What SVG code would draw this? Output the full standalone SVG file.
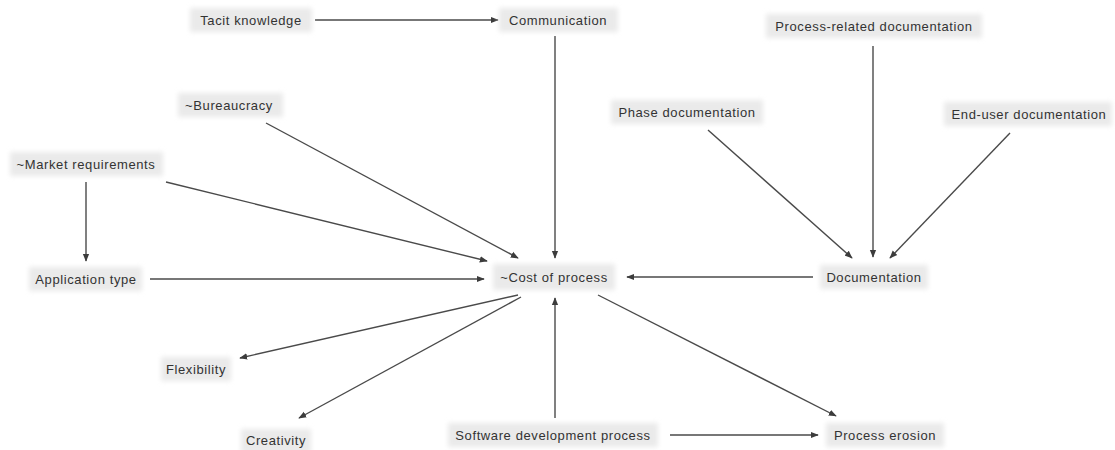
<svg xmlns="http://www.w3.org/2000/svg" width="1115" height="450" viewBox="0 0 1115 450">
  <style>
    .box { fill: #eaeaea; filter: url(#soft); }
    .lbl { font-family: "Liberation Sans", Arial, sans-serif; font-size: 13px; letter-spacing: 0.6px; fill: #333333; text-anchor: middle; dominant-baseline: central; }
    .edge { stroke: #4a4a4a; stroke-width: 1.4; fill: none; marker-end: url(#arrow); }
  </style>
  <defs>
    <filter id="soft" x="-20%" y="-50%" width="140%" height="200%">
      <feGaussianBlur stdDeviation="2.5"/>
    </filter>
    <marker id="arrow" viewBox="0 0 10 10" refX="9" refY="5" markerWidth="8" markerHeight="8" markerUnits="userSpaceOnUse" orient="auto">
      <path d="M0,1 L10,5 L0,9 z" fill="#3c3c3c"/>
    </marker>
  </defs>
  <rect width="1115" height="450" fill="#ffffff"/>

  <g id="connectors">
    <line class="edge" x1="315" y1="20" x2="498" y2="20"/>
    <line class="edge" x1="555" y1="36" x2="555" y2="258"/>
    <line class="edge" x1="873" y1="46" x2="873" y2="257"/>
    <line class="edge" x1="708" y1="130" x2="852" y2="258"/>
    <line class="edge" x1="1010" y1="133" x2="890" y2="258"/>
    <line class="edge" x1="813" y1="277" x2="627" y2="277"/>
    <line class="edge" x1="266" y1="123" x2="518" y2="258"/>
    <line class="edge" x1="166" y1="182" x2="487" y2="261"/>
    <line class="edge" x1="86" y1="182" x2="86" y2="261"/>
    <line class="edge" x1="150" y1="279" x2="484" y2="279"/>
    <line class="edge" x1="518" y1="295" x2="240" y2="358"/>
    <line class="edge" x1="521" y1="297" x2="299" y2="418"/>
    <line class="edge" x1="555" y1="418" x2="555" y2="298"/>
    <line class="edge" x1="598" y1="295" x2="836" y2="416"/>
    <line class="edge" x1="670" y1="435" x2="818" y2="435"/>
  </g>

  <g id="tacit-knowledge">
    <rect class="box" x="190" y="8" width="122" height="24"/>
    <text class="lbl" x="251" y="20">Tacit knowledge</text>
  </g>
  <g id="communication">
    <rect class="box" x="499" y="8" width="119" height="24"/>
    <text class="lbl" x="558" y="20">Communication</text>
  </g>
  <g id="process-related-documentation">
    <rect class="box" x="766" y="14" width="216" height="24"/>
    <text class="lbl" x="874" y="26">Process-related documentation</text>
  </g>
  <g id="bureaucracy">
    <rect class="box" x="178" y="93" width="105" height="24"/>
    <text class="lbl" x="229" y="105">~Bureaucracy</text>
  </g>
  <g id="phase-documentation">
    <rect class="box" x="611" y="100" width="152" height="24"/>
    <text class="lbl" x="687" y="112">Phase documentation</text>
  </g>
  <g id="end-user-documentation">
    <rect class="box" x="944" y="102" width="168" height="24"/>
    <text class="lbl" x="1029" y="114">End-user documentation</text>
  </g>
  <g id="market-requirements">
    <rect class="box" x="10" y="152" width="153" height="24"/>
    <text class="lbl" x="86" y="164">~Market requirements</text>
  </g>
  <g id="application-type">
    <rect class="box" x="29" y="267" width="113" height="24"/>
    <text class="lbl" x="86" y="279">Application type</text>
  </g>
  <g id="cost-of-process">
    <rect class="box" x="493" y="264" width="122" height="26"/>
    <text class="lbl" x="554" y="277">~Cost of process</text>
  </g>
  <g id="documentation">
    <rect class="box" x="820" y="265" width="108" height="24"/>
    <text class="lbl" x="874" y="277">Documentation</text>
  </g>
  <g id="flexibility">
    <rect class="box" x="161" y="357" width="70" height="24"/>
    <text class="lbl" x="196" y="369">Flexibility</text>
  </g>
  <g id="creativity">
    <rect class="box" x="241" y="429" width="70" height="24"/>
    <text class="lbl" x="276" y="440">Creativity</text>
  </g>
  <g id="software-development-process">
    <rect class="box" x="448" y="423" width="210" height="24"/>
    <text class="lbl" x="553" y="435">Software development process</text>
  </g>
  <g id="process-erosion">
    <rect class="box" x="826" y="423" width="118" height="24"/>
    <text class="lbl" x="885" y="435">Process erosion</text>
  </g>
</svg>
